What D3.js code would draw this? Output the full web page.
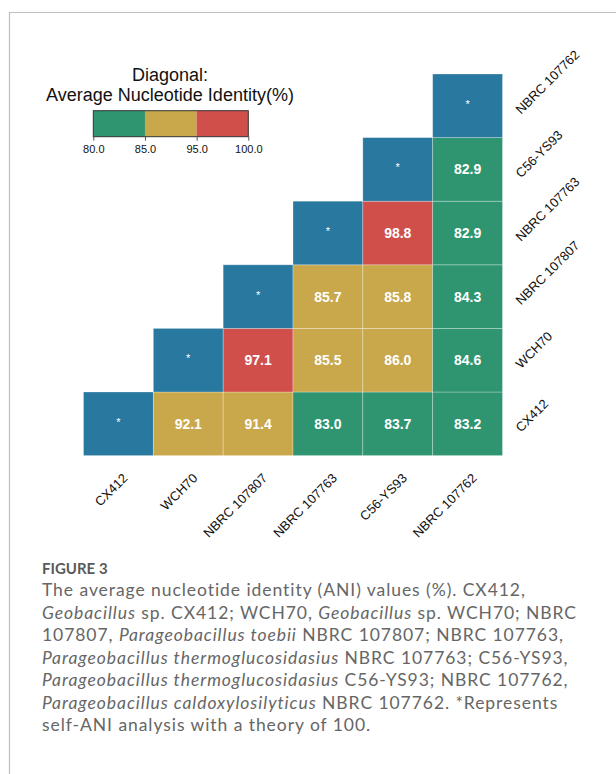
<!DOCTYPE html>
<html>
<head>
<meta charset="utf-8">
<script src="https://cdn.jsdelivr.net/npm/d3@7"></script>
<style>
  html, body { margin: 0; padding: 0; background: #fff; }
  svg { display: block; }
</style>
</head>
<body>
<svg id="chart" width="616" height="774"></svg>
<script>
// ---------- DATA ----------
const strains = ["CX412", "WCH70", "NBRC 107807", "NBRC 107763", "C56-YS93", "NBRC 107762"];
// ANI rows (row strain vs. column strains, upper triangle; null = self comparison "*")
const rowCX412      = [null, 92.1, 91.4, 83.0, 83.7, 83.2];
const rowWCH70      = [null, 97.1, 85.5, 86.0, 84.6];
const rowNBRC107807 = [null, 85.7, 85.8, 84.3];
const rowNBRC107763 = [null, 98.8, 82.9];
const rowC56YS93    = [null, 82.9];
const rowNBRC107762 = [null];
const legendBreaks = [80, 85, 95, 100];
const legendTickLabels = ["80.0", "85.0", "95.0", "100.0"];
const legendTitle = ["Diagonal:", "Average Nucleotide Identity(%)"];

const captionTitle = "FIGURE 3";
const captionLines = [
  [["The average nucleotide identity (ANI) values (%). CX412,", false]],
  [["Geobacillus", true], [" sp. CX412; WCH70, ", false], ["Geobacillus", true], [" sp. WCH70; NBRC", false]],
  [["107807, ", false], ["Parageobacillus toebii", true], [" NBRC 107807; NBRC 107763,", false]],
  [["Parageobacillus thermoglucosidasius", true], [" NBRC 107763; C56-YS93,", false]],
  [["Parageobacillus thermoglucosidasius", true], [" C56-YS93; NBRC 107762,", false]],
  [["Parageobacillus caldoxylosilyticus", true], [" NBRC 107762. *Represents", false]],
  [["self-ANI analysis with a theory of 100.", false]]
];

// ---------- BUILD CELLS ----------
const rows = [rowCX412, rowWCH70, rowNBRC107807, rowNBRC107763, rowC56YS93, rowNBRC107762];
const cells = [];
rows.forEach((vals, i) => {
  vals.forEach((v, k) => {
    const j = i + k;
    cells.push({ row: strains[i], col: strains[j], value: v });
  });
});

// ---------- STYLE ----------
const COL_DIAG = "#2878a0";
const COL_GREEN = "#2f9570";
const COL_GOLD = "#c9a84b";
const COL_RED = "#d04f4b";

const svg = d3.select("#chart");

// frame
svg.append("line").attr("x1", 10).attr("y1", 12.5).attr("x2", 616).attr("y2", 12.5)
  .attr("stroke", "#bdbdbd").attr("stroke-width", 1.2);
svg.append("line").attr("x1", 9.5).attr("y1", 12).attr("x2", 9.5).attr("y2", 774)
  .attr("stroke", "#bdbdbd").attr("stroke-width", 1.2);

// scales
const x = d3.scaleBand().domain(strains).range([83.5, 502.5]).padding(0);
const y = d3.scaleBand().domain(strains.slice().reverse()).range([74, 455.6]).padding(0);
const color = d3.scaleThreshold().domain([legendBreaks[1], legendBreaks[2]]).range([COL_GREEN, COL_GOLD, COL_RED]);

const g = svg.append("g");
g.selectAll("rect.cell").data(cells).join("rect")
  .attr("class", "cell")
  .attr("x", d => x(d.col))
  .attr("y", d => y(d.row))
  .attr("width", x.bandwidth())
  .attr("height", y.bandwidth())
  .attr("fill", d => d.value === null ? COL_DIAG : color(d.value))
  .attr("stroke", "rgba(255,255,255,0.35)")
  .attr("stroke-width", 0.8);

g.selectAll("text.val").data(cells).join("text")
  .attr("class", "val")
  .attr("x", d => x(d.col) + x.bandwidth() / 2)
  .attr("y", d => y(d.row) + y.bandwidth() / 2 + (d.value === null ? 2 : 5))
  .attr("text-anchor", "middle")
  .attr("font-family", "Liberation Sans, Arial, sans-serif")
  .attr("font-weight", d => d.value === null ? "normal" : "bold")
  .attr("font-size", d => d.value === null ? 11 : 14)
  .attr("fill", "#fff")
  .text(d => d.value === null ? "*" : d3.format(".1f")(d.value));

// bottom labels
svg.append("g").selectAll("text").data(strains).join("text")
  .attr("transform", d => `translate(${x(d) + x.bandwidth() / 2 + 10},479) rotate(-45)`)
  .attr("text-anchor", "end")
  .attr("font-family", "Liberation Sans, Arial, sans-serif")
  .attr("font-size", 13)
  .attr("fill", "#111")
  .text(d => d);

// right labels
svg.append("g").selectAll("text").data(strains).join("text")
  .attr("transform", d => `translate(521,${y(d) + y.bandwidth() / 2 + 9}) rotate(-45)`)
  .attr("text-anchor", "start")
  .attr("font-family", "Liberation Sans, Arial, sans-serif")
  .attr("font-size", 13)
  .attr("fill", "#111")
  .text(d => d);

// ---------- LEGEND ----------
const lg = svg.append("g");
lg.selectAll("text.title").data(legendTitle).join("text")
  .attr("class", "title")
  .attr("x", 170)
  .attr("y", (d, i) => 81 + i * 19.5)
  .attr("text-anchor", "middle")
  .attr("font-family", "Liberation Sans, Arial, sans-serif")
  .attr("font-size", 18)
  .attr("fill", "#111")
  .text(d => d);

const lx = d3.scalePoint().domain(legendTickLabels).range([93.3, 248.3]);
const segs = d3.range(legendBreaks.length - 1).map(i => ({
  from: legendTickLabels[i], to: legendTickLabels[i + 1],
  mid: (legendBreaks[i] + legendBreaks[i + 1]) / 2
}));
lg.selectAll("rect.seg").data(segs).join("rect")
  .attr("class", "seg")
  .attr("x", d => lx(d.from))
  .attr("y", 110.7)
  .attr("width", d => lx(d.to) - lx(d.from))
  .attr("height", 26)
  .attr("fill", d => color(d.mid));
lg.append("rect")
  .attr("x", lx.range()[0]).attr("y", 110.7)
  .attr("width", lx.range()[1] - lx.range()[0]).attr("height", 26)
  .attr("fill", "none").attr("stroke", "#333").attr("stroke-width", 1);

const axis = d3.axisBottom(lx).tickSize(4).tickPadding(5);
const ag = lg.append("g").attr("transform", "translate(0,136.7)").call(axis);
ag.select(".domain").remove();
ag.selectAll(".tick line").attr("stroke", "#555");
ag.selectAll(".tick text")
  .attr("font-family", "Liberation Sans, Arial, sans-serif")
  .attr("font-size", 11)
  .attr("fill", "#111");

// ---------- CAPTION ----------
svg.append("text")
  .attr("x", 42).attr("y", 573.5)
  .attr("font-family", "Lato, 'Open Sans', sans-serif")
  .attr("font-weight", "bold")
  .attr("font-size", 15)
  .attr("fill", "#5a5a5a")
  .text(captionTitle);

const cap = svg.append("g");
const capTexts = captionLines.map((line, i) => {
  const t = cap.append("text")
    .attr("x", 42).attr("y", 596 + i * 22.5)
    .attr("font-family", "Lato, 'Open Sans', sans-serif")
    .attr("font-size", 17.5)
    .attr("fill", "#666");
  line.forEach(([s, it]) => {
    t.append("tspan").attr("font-style", it ? "italic" : "normal").text(s);
  });
  return t;
});
// widen letter spacing so the longest caption line spans the reference width (~535px)
let longest = null, maxW = 0;
capTexts.forEach(t => {
  const w = t.node().getComputedTextLength();
  if (w > maxW) { maxW = w; longest = t; }
});
if (longest) {
  const n = longest.text().length;
  const ls = Math.max(0, (535 - maxW) / n);
  capTexts.forEach(t => t.attr("letter-spacing", ls));
}
</script>
</body>
</html>
